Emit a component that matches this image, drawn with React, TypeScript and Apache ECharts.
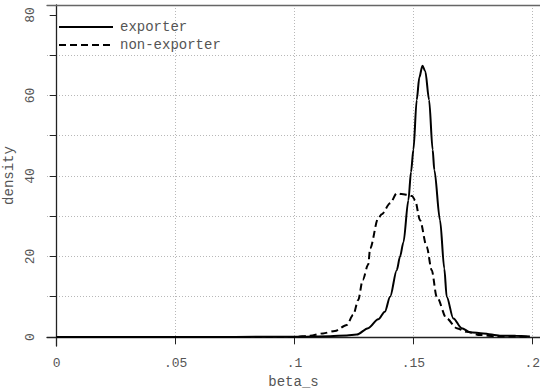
import React, { useEffect, useRef } from "react";
import * as echarts from "echarts";

// exporter density (beta_s, density)
const exporterX = [0, 0.05, 0.1, 0.115, 0.122, 0.1262, 0.131, 0.1352, 0.138, 0.1402, 0.143, 0.1444, 0.1458, 0.1479, 0.149, 0.15, 0.1514, 0.1525, 0.1538, 0.155, 0.1566, 0.1581, 0.1588, 0.1612, 0.163, 0.164, 0.1668, 0.1703, 0.1738, 0.1794, 0.1864, 0.193, 0.199];
const exporterY = [0, 0, 0.05, 0.2, 0.4, 0.6, 2.2, 4.4, 6.3, 10, 16.6, 20, 23.5, 34, 41, 46.5, 58.9, 64.5, 67.4, 66, 58.9, 46.5, 41.5, 29, 17, 10, 4.6, 2.2, 1.2, 0.9, 0.33, 0.3, 0.1];

// non-exporter density
const nonExporterX = [0, 0.05, 0.1, 0.1065, 0.112, 0.117, 0.122, 0.1247, 0.1268, 0.1287, 0.131, 0.1318, 0.1352, 0.1367, 0.1402, 0.143, 0.145, 0.1479, 0.1495, 0.1507, 0.1528, 0.1556, 0.1577, 0.1598, 0.164, 0.1682, 0.1724, 0.178, 0.185, 0.199];
const nonExporterY = [0, 0, 0.02, 0.3, 0.9, 1.5, 3, 5.5, 9.2, 14.2, 18, 22, 29.5, 30.5, 33.2, 35.7, 35.5, 35.3, 35, 34, 29, 22.4, 16.6, 10, 4.6, 2.2, 1.3, 0.5, 0.15, 0.05];

const xTicks = [0, 0.05, 0.1, 0.15, 0.2];
const xTickLabels = ["0", ".05", ".1", ".15", ".2"];
const yTicks = [0, 10, 20, 30, 40, 50, 60, 70, 80];
const yLabelTicks = [0, 20, 40, 60, 80];

const seriesNames = ["exporter", "non-exporter"];

const FONT = "'Liberation Mono', 'DejaVu Sans Mono', monospace";

export default function App() {
  const ref = useRef<HTMLDivElement>(null);
  useEffect(() => {
    if (!ref.current) return;
    const chart = echarts.init(ref.current, null, { renderer: "svg" });
    const pair = (xs: number[], ys: number[]) => xs.map((x, i) => [x, ys[i]]);
    const gridColor = "#b8b8b8";
    const textColor = "#555";
    chart.setOption({
      animation: false,
      backgroundColor: "#ffffff",
      grid: { left: 47, right: 0, top: 5, bottom: 43, containLabel: false, outerBoundsMode: "none" },
      legend: {
        orient: "vertical",
        left: 58,
        top: 20,
        padding: 0,
        itemWidth: 54,
        itemHeight: 14,
        itemGap: 4,
        itemStyle: { color: "rgba(0,0,0,0)", borderWidth: 0, opacity: 0 },
        textStyle: { fontFamily: FONT, fontSize: 14, color: textColor, padding: [0, 0, 0, 2] },
        data: seriesNames,
      },
      xAxis: [
        {
          type: "value",
          min: -0.00408,
          max: 0.20324,
          position: "bottom",
          axisLine: { show: true, lineStyle: { color: "#222", width: 1.3 } },
          axisTick: { show: true, length: 7, customValues: xTicks, lineStyle: { color: "#222" } },
          axisLabel: {
            customValues: xTicks,
            margin: 11,
            fontFamily: FONT,
            fontSize: 13,
            color: textColor,
            formatter: (v: number) => {
              const i = xTicks.findIndex((t) => Math.abs(t - v) < 1e-9);
              return i >= 0 ? xTickLabels[i] : "";
            },
          },
          splitLine: { show: true, lineStyle: { color: gridColor, type: [1, 2], width: 1 } },
          name: "beta_s",
          nameLocation: "middle",
          nameGap: 18,
          nameTextStyle: { fontFamily: FONT, fontSize: 14, color: textColor },
        },
        {
          type: "value",
          min: -0.00408,
          max: 0.20324,
          position: "top",
          axisLine: { show: true, lineStyle: { color: "#666", width: 1.3 } },
          axisTick: { show: false },
          axisLabel: { show: false },
          splitLine: { show: false },
        },
      ],
      yAxis: {
        type: "value",
        min: -2.236,
        max: 82.48,
        axisLine: { show: true, lineStyle: { color: "#222", width: 1.3 } },
        axisTick: { show: true, length: 7, customValues: yTicks, lineStyle: { color: "#222" } },
        axisLabel: {
          customValues: yLabelTicks,
          rotate: 90,
          margin: 10,
          fontFamily: FONT,
          fontSize: 13,
          color: textColor,
          formatter: (v: number) => String(Math.round(v)),
        },
        splitLine: {
          show: true,
          lineStyle: {
            color: [gridColor, gridColor, gridColor, gridColor, gridColor, gridColor, gridColor, gridColor, "rgba(0,0,0,0)"],
            type: [1, 2],
            width: 1,
          },
        },
        name: "density",
        nameLocation: "middle",
        nameGap: 25,
        nameTextStyle: { fontFamily: FONT, fontSize: 14, color: textColor },
      },
      series: [
        {
          name: seriesNames[0],
          type: "line",
          xAxisIndex: 0,
          data: pair(exporterX, exporterY),
          symbol: "none",
          showSymbol: false,
          smooth: 0.3,
          smoothMonotone: "x",
          lineStyle: { color: "#000", width: 2 },
          itemStyle: { color: "#000" },
        },
        {
          name: seriesNames[1],
          type: "line",
          xAxisIndex: 0,
          data: pair(nonExporterX, nonExporterY),
          symbol: "none",
          showSymbol: false,
          smooth: 0.3,
          smoothMonotone: "x",
          lineStyle: { color: "#000", width: 2, type: [7, 4] },
          itemStyle: { color: "#000" },
        },
      ],
    });
    return () => chart.dispose();
  }, []);
  return (
    <div
      ref={ref}
      style={{ position: "fixed", left: 0, top: 0, width: 540, height: 389, background: "#fff" }}
    />
  );
}
